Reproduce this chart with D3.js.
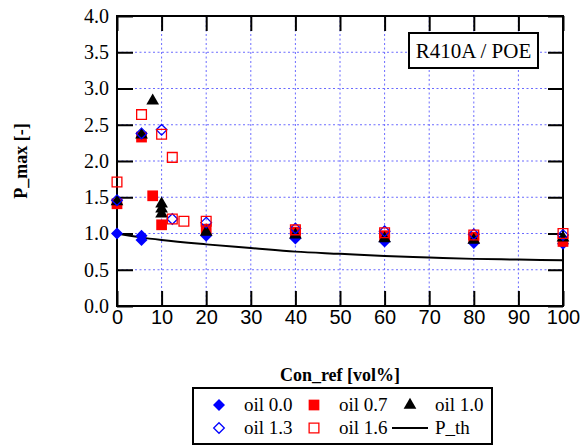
<!DOCTYPE html>
<html><head><meta charset="utf-8">
<script src="https://cdn.jsdelivr.net/npm/d3@7"></script>
<style>body{margin:0;background:#fff}</style>
</head><body><svg id="c" width="588" height="446"></svg>
<script>
const xTicks = [0,10,20,30,40,50,60,70,80,90,100];
const yTicks = [0,0.5,1,1.5,2,2.5,3,3.5,4];
const oil00X = [0, 5.5, 5.5, 20, 40, 60, 80, 100];
const oil00Y = [1.00, 0.97, 0.91, 0.97, 0.93, 0.89, 0.87, 0.86];
const oil07X = [0, 5.5, 8, 10, 20, 40, 60, 80, 100];
const oil07Y = [1.41, 2.33, 1.52, 1.12, 1.06, 1.02, 0.97, 0.95, 0.89];
const oil10X = [0, 5.5, 8, 10, 10, 10, 20, 40, 60, 80, 100];
const oil10Y = [1.44, 2.36, 2.83, 1.41, 1.34, 1.27, 1.02, 0.98, 0.93, 0.91, 0.94];
const oil13X = [0, 5.5, 10, 12.4, 20, 40, 60, 80, 100];
const oil13Y = [1.46, 2.38, 2.43, 1.20, 1.15, 1.07, 1.03, 0.99, 0.98];
const oil16X = [0, 5.5, 10, 12.4, 12.4, 15, 20, 40, 60, 80, 100];
const oil16Y = [1.71, 2.64, 2.37, 2.05, 1.20, 1.17, 1.17, 1.05, 1.01, 0.98, 1.00];
const pthX = [0, 5, 10, 20, 30, 40, 50, 60, 70, 80, 90, 100];
const pthY = [1.00, 0.95, 0.91, 0.85, 0.80, 0.75, 0.72, 0.69, 0.67, 0.65, 0.64, 0.63];
const legendLabels = ["oil 0.0","oil 0.7","oil 1.0","oil 1.3","oil 1.6","P_th"];

const svg = d3.select("#c");
const L=117, R=563, T=16, B=306;
const x = d3.scaleLinear().domain([0,100]).range([L,R]);
const y = d3.scaleLinear().domain([0,4]).range([B,T]);
const serif = "'Liberation Serif','Times New Roman',serif";
const sans = "'Liberation Sans',Arial,sans-serif";

// grid
const g = svg.append("g");
g.selectAll("line.gx").data(xTicks.slice(1,-1)).join("line")
  .attr("x1",d=>x(d)).attr("x2",d=>x(d)).attr("y1",T).attr("y2",B)
  .attr("stroke","#6b6bff").attr("stroke-width",1).attr("stroke-dasharray","2,2.5");
g.selectAll("line.gy").data(yTicks.slice(1,-1)).join("line")
  .attr("y1",d=>y(d)).attr("y2",d=>y(d)).attr("x1",L).attr("x2",R)
  .attr("stroke","#6b6bff").attr("stroke-width",1).attr("stroke-dasharray","2,2.5");

// axes with inward ticks
const axB = d3.axisBottom(x).tickValues(xTicks).tickSize(-15).tickPadding(4).tickFormat(d3.format("d"));
const axT = d3.axisTop(x).tickValues(xTicks).tickSize(-15).tickFormat("");
const axL = d3.axisLeft(y).tickValues(yTicks).tickSize(-16).tickPadding(8).tickFormat(d3.format(".1f"));
const axR = d3.axisRight(y).tickValues(yTicks).tickSize(-15).tickFormat("");
function style(sel, font, size){
  sel.select(".domain").remove();
  sel.selectAll(".tick line").attr("stroke","#000").attr("stroke-width",2);
  sel.selectAll("text").attr("font-family",font).attr("font-size",size).attr("fill","#000");
}
svg.append("g").attr("transform",`translate(0,${B})`).call(axB).call(s=>style(s,sans,"20px"));
svg.append("g").attr("transform",`translate(0,${T})`).call(axT).call(s=>style(s,sans,"20px"));
svg.append("g").attr("transform",`translate(${L},0)`).call(axL).call(s=>style(s,serif,"20px"));
svg.append("g").attr("transform",`translate(${R},0)`).call(axR).call(s=>style(s,serif,"20px"));
svg.append("rect").attr("x",L).attr("y",T).attr("width",R-L).attr("height",B-T)
  .attr("fill","none").attr("stroke","#000").attr("stroke-width",2);

// P_th line
svg.append("path").datum(pthX.map((d,i)=>[d,pthY[i]]))
  .attr("d", d3.line().x(d=>x(d[0])).y(d=>y(d[1])).curve(d3.curveMonotoneX))
  .attr("fill","none").attr("stroke","#000").attr("stroke-width",2);

// markers
const series = [
  {xs:oil00X, ys:oil00Y, type:d3.symbolDiamond2, size:92, fill:"#0000ff", stroke:"none"},
  {xs:oil07X, ys:oil07Y, type:d3.symbolSquare, size:115, fill:"#ff0000", stroke:"none"},
  {xs:oil10X, ys:oil10Y, type:d3.symbolTriangle, size:70, fill:"#000", stroke:"none"},
  {xs:oil13X, ys:oil13Y, type:d3.symbolDiamond2, size:72, fill:"none", stroke:"#0000ff"},
  {xs:oil16X, ys:oil16Y, type:d3.symbolSquare, size:95, fill:"none", stroke:"#ff0000"}
];
function drawMarker(sel, s){
  sel.attr("d", d3.symbol().type(s.type).size(s.size)())
    .attr("fill", s.fill).attr("stroke", s.stroke).attr("stroke-width", s.stroke==="none"?0:1.3);
}
series.forEach(s=>{
  svg.append("g").selectAll("path").data(s.xs.map((d,i)=>[d,s.ys[i]])).join("path")
    .attr("transform",d=>`translate(${x(d[0])},${y(d[1])})`)
    .each(function(){drawMarker(d3.select(this), s);});
});

// annotation box
svg.append("rect").attr("x",409).attr("y",33).attr("width",129).attr("height",35)
  .attr("fill","#fff").attr("stroke","#000").attr("stroke-width",2);
svg.append("text").attr("x",473.5).attr("y",58).attr("text-anchor","middle")
  .attr("font-family",serif).attr("font-size","21px").text("R410A / POE");

// axis titles
svg.append("text").attr("x",(L+R)/2).attr("y",381).attr("text-anchor","middle")
  .attr("font-family",serif).attr("font-weight","bold").attr("font-size","18px").text("Con_ref [vol%]");
svg.append("text").attr("transform","translate(27,161) rotate(-90)").attr("text-anchor","middle")
  .attr("font-family",serif).attr("font-weight","bold").attr("font-size","18px").text("P_max [-]");

// legend
svg.append("rect").attr("x",193).attr("y",388).attr("width",299).attr("height",56)
  .attr("fill","#fff").attr("stroke","#000").attr("stroke-width",2);
const legPos = [[219,244,405],[314,339,405],[410,435,405],[219,244,428],[314,339,428]];
series.forEach((s,i)=>{
  const p = legPos[i];
  svg.append("path").attr("transform",`translate(${p[0]},${p[2]})`).call(sel=>drawMarker(sel,s));
  svg.append("text").attr("x",p[1]).attr("y",p[2]+6).attr("font-family",serif).attr("font-size","19px").text(legendLabels[i]);
});
svg.append("line").attr("x1",392).attr("x2",428).attr("y1",428).attr("y2",428).attr("stroke","#000").attr("stroke-width",2);
svg.append("text").attr("x",435).attr("y",434).attr("font-family",serif).attr("font-size","19px").text(legendLabels[5]);
</script></body></html>
